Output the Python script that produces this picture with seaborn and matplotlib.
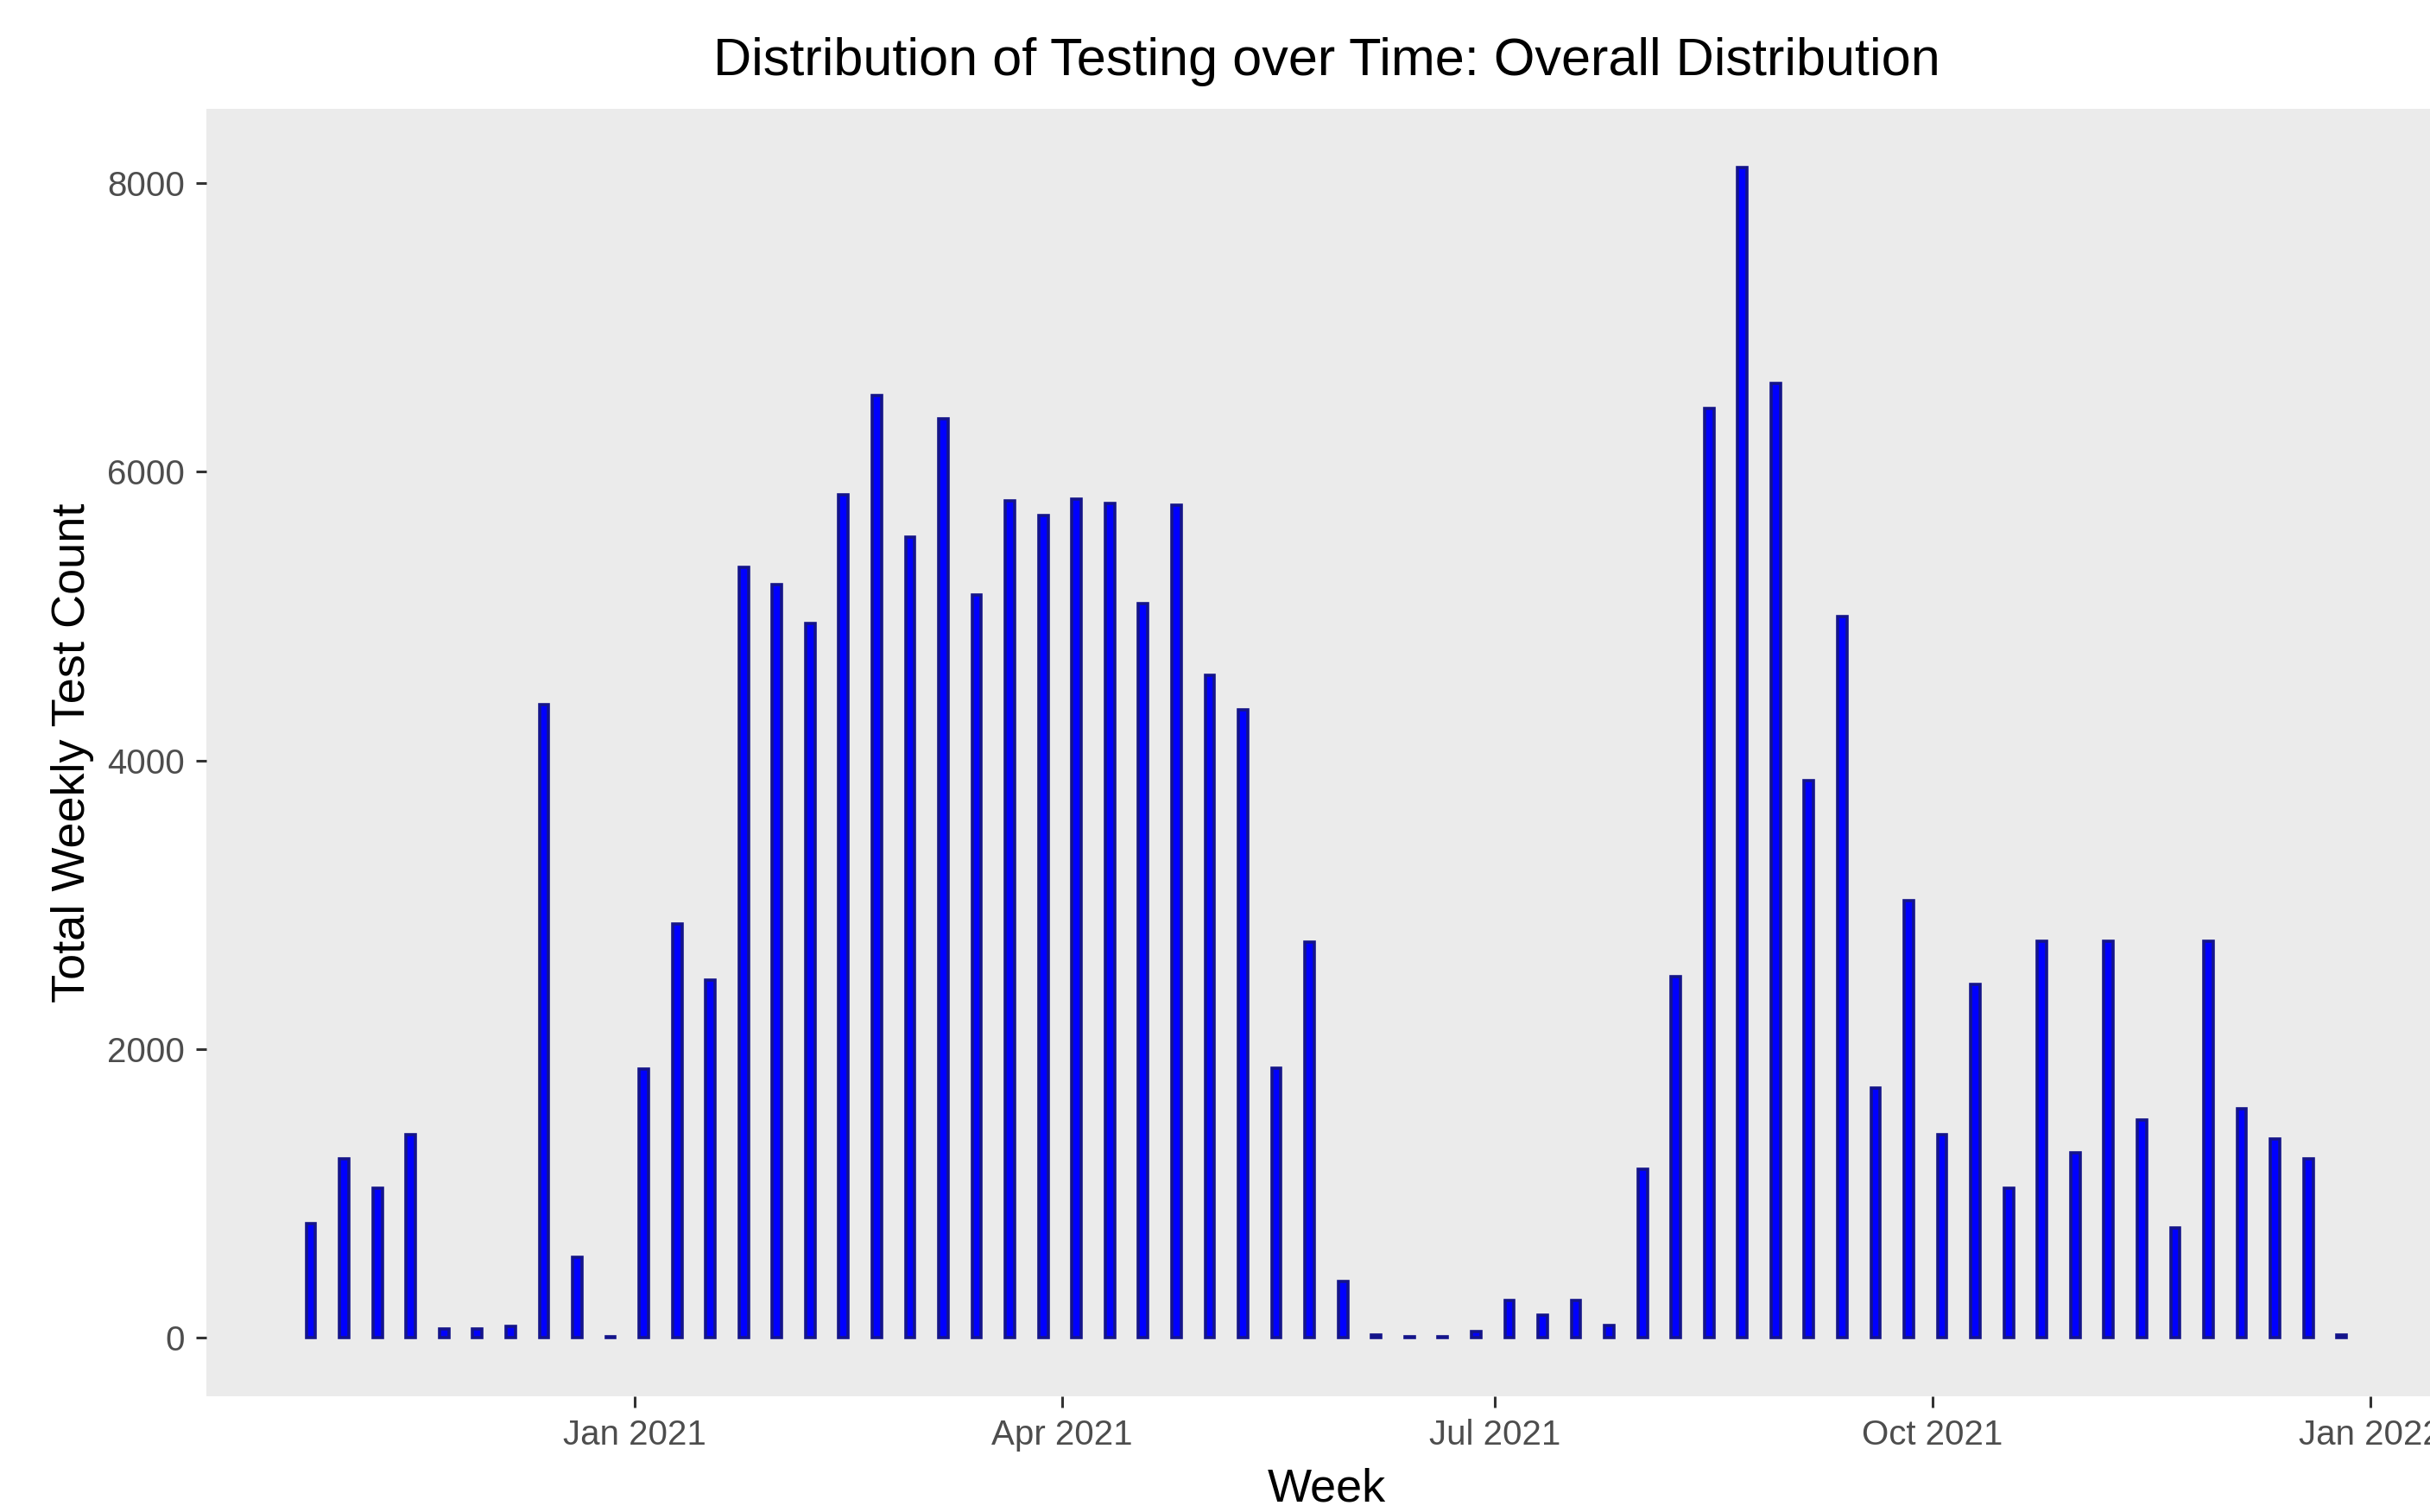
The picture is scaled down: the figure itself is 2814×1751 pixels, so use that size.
import datetime as dt

import matplotlib
matplotlib.use("Agg")
import matplotlib.dates as mdates
import matplotlib.pyplot as plt
import seaborn as sns

# weekly totals, weeks starting on Sunday 2020-10-25
first_week = dt.date(2020, 10, 25)
weekly_tests = [
    790, 1240, 1040, 1410, 60, 60, 80, 4390, 560, 8,
    1860, 2870, 2480, 5340, 5220, 4950, 5840, 6530, 5550, 6370,
    5150, 5800, 5700, 5810, 5780, 5090, 5770, 4590, 4350, 1870,
    2740, 390, 20, 10, 10, 45, 260, 160, 260, 85,
    1170, 2500, 6440, 8110, 6610, 3860, 5000, 1730, 3030, 1410,
    2450, 1040, 2750, 1280, 2750, 1510, 760, 2750, 1590, 1380,
    1240, 20,
]
weeks = [first_week + dt.timedelta(weeks=i) for i in range(len(weekly_tests))]

tick_dates = [dt.date(2021, 1, 1), dt.date(2021, 4, 1), dt.date(2021, 7, 1),
              dt.date(2021, 10, 1), dt.date(2022, 1, 1)]
tick_labels = ["Jan 2021", "Apr 2021", "Jul 2021", "Oct 2021", "Jan 2022"]
y_ticks = [0, 2000, 4000, 6000, 8000]

sns.set_theme(style="ticks", rc={
    "axes.facecolor": "#ebebeb",
    "figure.facecolor": "white",
    "axes.grid": False,
})
plt.rcParams["font.family"] = ["Liberation Sans", "DejaVu Sans"]

fig = plt.figure(figsize=(14.07, 8.755), dpi=200)
ax = fig.add_axes([0.0849, 0.0765, 0.9218, 0.8515])

x = mdates.date2num(weeks)
sns.barplot(x=x, y=weekly_tests, native_scale=True, width=0.28,
            color="blue", saturation=1, edgecolor="#14148a", linewidth=1.3,
            errorbar=None, ax=ax)

ax.set_xlim(mdates.date2num(dt.date(2020, 10, 3)), mdates.date2num(dt.date(2022, 1, 17)))
ax.set_ylim(-405, 8515)
ax.set_xticks(mdates.date2num(tick_dates))
ax.set_xticklabels(tick_labels)
ax.set_yticks(y_ticks)
ax.set_yticklabels([str(v) for v in y_ticks])

for s in ax.spines.values():
    s.set_visible(False)
ax.tick_params(axis="both", colors="#333333", labelcolor="#4d4d4d",
               labelsize=14.5, length=4.5, width=1.1)
ax.tick_params(axis="x", pad=5)
ax.tick_params(axis="y", pad=4.5)

ax.set_title("Distribution of Testing over Time: Overall Distribution",
             fontsize=22, color="black", pad=14)
ax.set_xlabel("Week", fontsize=19.5, color="black")
ax.set_ylabel("Total Weekly Test Count", fontsize=19.5, color="black")
ax.xaxis.set_label_coords(0.5, -0.055)
ax.yaxis.set_label_coords(-0.050, 0.5)

fig.savefig("out.png", dpi=200)
